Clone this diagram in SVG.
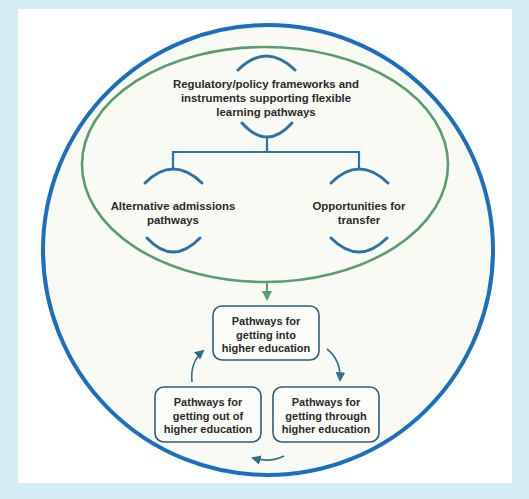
<svg xmlns="http://www.w3.org/2000/svg" width="529" height="499" viewBox="0 0 529 499">
<style>
  .t { font-family: "Liberation Sans", Arial, sans-serif; font-weight: bold; fill: #2a2a2a; text-anchor: middle; }
  .tt { font-size: 11.4px; }
  .tb { font-size: 11px; }
  .arc { fill: none; stroke: #2b73a8; stroke-width: 3; stroke-linecap: round; }
  .tree { fill: none; stroke: #2b73a8; stroke-width: 2.2; }
  .box { fill: #fcfdf8; stroke: #2d5f7a; stroke-width: 1.6; }
  .flow { fill: none; stroke: #2f6e8e; stroke-width: 1.6; }
</style>
<defs>
  <marker id="ah" viewBox="0 0 10 10" refX="8" refY="5" markerWidth="6" markerHeight="6" orient="auto">
    <path d="M0,0 L10,5 L0,10 Z" fill="#2f6e8e"/>
  </marker>
  <marker id="ahg" viewBox="0 0 10 10" refX="8" refY="5" markerWidth="5" markerHeight="5" orient="auto">
    <path d="M0,0 L10,5 L0,10 Z" fill="#5a9e6f"/>
  </marker>
</defs>
<rect x="0" y="0" width="529" height="499" fill="#d5eef6"/>
<rect x="18" y="9" width="494" height="474" fill="#ffffff"/>
<circle cx="268" cy="250" r="225" fill="#fafaf4" stroke="#1a6fbf" stroke-width="4"/>
<ellipse cx="265" cy="164.5" rx="183" ry="117.5" fill="none" stroke="#5a9e6f" stroke-width="2.6"/>

<g id="connectors">
  <path class="tree" d="M267,137 V152 M173,152 H359 M173,151 V169 M359,151 V169"/>
  <path d="M267,283 V299" fill="none" stroke="#5a9e6f" stroke-width="2" marker-end="url(#ahg)"/>
  <path class="flow" d="M327,349 Q341,360 340,380" marker-end="url(#ah)"/>
  <path class="flow" d="M192,382 Q190,362 203,351" marker-end="url(#ah)"/>
  <path class="flow" d="M284,456 Q270,463 253,458" marker-end="url(#ah)"/>
</g>

<g id="node-frameworks">
  <path class="arc" d="M238,70 Q266,42 295,70"/>
  <text class="t tt" x="266" y="87.5">Regulatory/policy frameworks and</text>
  <text class="t tt" x="266" y="101.5">instruments supporting flexible</text>
  <text class="t tt" x="266" y="115.5">learning pathways</text>
  <path class="arc" d="M242,123 Q267,151 292,123"/>
</g>

<g id="node-admissions">
  <path class="arc" d="M145,183 Q173,155 202,183"/>
  <text class="t tt" x="173" y="209.5">Alternative admissions</text>
  <text class="t tt" x="173" y="224">pathways</text>
  <path class="arc" d="M147,238 Q173,266 200,238"/>
</g>

<g id="node-transfer">
  <path class="arc" d="M331,183 Q359,155 388,183"/>
  <text class="t tt" x="359" y="209.5">Opportunities for</text>
  <text class="t tt" x="359" y="224">transfer</text>
  <path class="arc" d="M331,238 Q359,266 387,238"/>
</g>

<g id="node-into">
  <rect class="box" x="213" y="306" width="106" height="54" rx="9"/>
  <text class="t tb" x="266" y="325">Pathways for</text>
  <text class="t tb" x="266" y="338.5">getting into</text>
  <text class="t tb" x="266" y="352">higher education</text>
</g>

<g id="node-out">
  <rect class="box" x="155" y="387" width="106" height="55" rx="9"/>
  <text class="t tb" x="208" y="406">Pathways for</text>
  <text class="t tb" x="208" y="419.5">getting out of</text>
  <text class="t tb" x="208" y="433">higher education</text>
</g>

<g id="node-through">
  <rect class="box" x="273" y="387" width="106" height="55" rx="9"/>
  <text class="t tb" x="326" y="406">Pathways for</text>
  <text class="t tb" x="326" y="419.5">getting through</text>
  <text class="t tb" x="326" y="433">higher education</text>
</g>
</svg>
